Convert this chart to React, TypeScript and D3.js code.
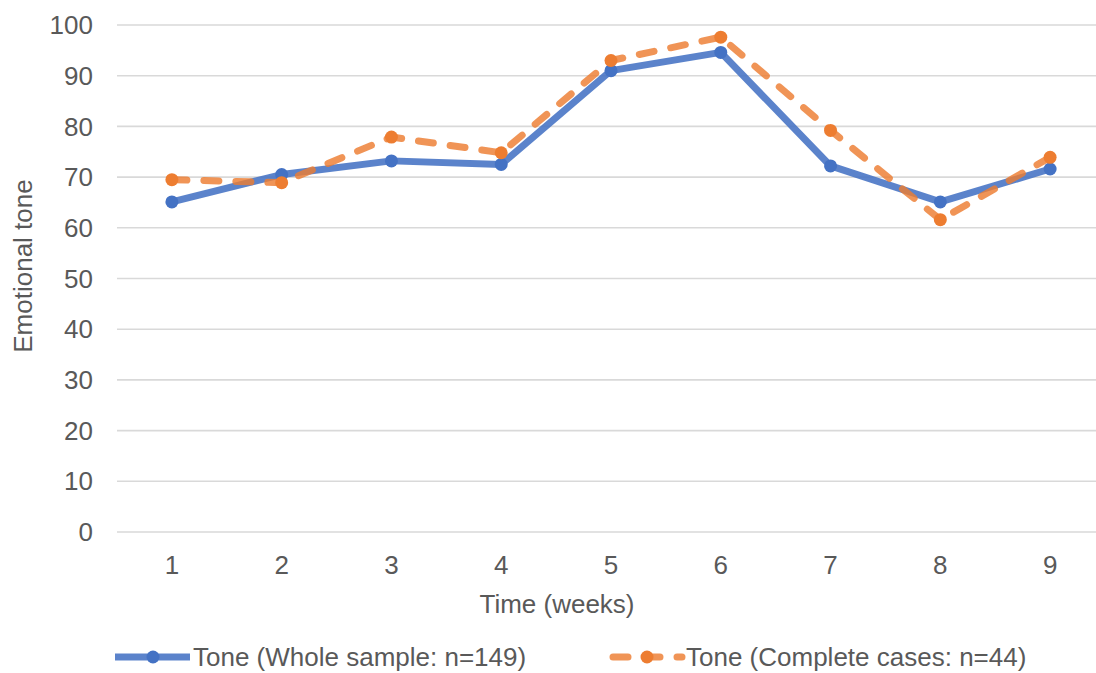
import React, { useEffect, useRef } from 'react';
import * as d3 from 'd3';

const weeks = ['1', '2', '3', '4', '5', '6', '7', '8', '9'];
const wholeSample = [65.1, 70.5, 73.2, 72.5, 91.0, 94.6, 72.2, 65.1, 71.6];
const completeCases = [69.5, 68.9, 77.9, 74.8, 93.0, 97.6, 79.2, 61.6, 73.9];
const yTicks = [0, 10, 20, 30, 40, 50, 60, 70, 80, 90, 100];
const seriesNames = ['Tone (Whole sample: n=149)', 'Tone (Complete cases: n=44)'];

const W = 1096;
const H = 673;
const FONT = '"Liberation Sans", Arial, sans-serif';
const FS = 26;

const App: React.FC = () => {
  const svgRef = useRef<SVGSVGElement | null>(null);

  useEffect(() => {
    document.body.style.margin = '0';
    const svg = d3.select(svgRef.current);
    svg.selectAll('*').remove();

    const margin = { top: 25, right: -9, bottom: 141, left: 117 };
    const width = W - margin.left - margin.right;
    const height = H - margin.top - margin.bottom;

    const g = svg.append('g').attr('transform', `translate(${margin.left},${margin.top})`);

    const x = d3.scaleBand().domain(weeks).range([0, width]).padding(0);
    const y = d3.scaleLinear().domain([0, 100]).range([height, 0]);

    // gridlines
    g.selectAll('.grid')
      .data(yTicks)
      .enter()
      .append('line')
      .attr('x1', 0)
      .attr('x2', width)
      .attr('y1', d => y(d))
      .attr('y2', d => y(d))
      .attr('stroke', '#d9d9d9')
      .attr('stroke-width', 1.6);

    // y labels
    g.selectAll('.ylab')
      .data(yTicks)
      .enter()
      .append('text')
      .attr('x', -24)
      .attr('y', d => y(d))
      .attr('dy', '0.35em')
      .attr('text-anchor', 'end')
      .attr('fill', '#595959')
      .attr('font-family', FONT)
      .attr('font-size', FS)
      .text(d => d);

    // x labels
    g.selectAll('.xlab')
      .data(weeks)
      .enter()
      .append('text')
      .attr('x', d => x(d)! + x.bandwidth() / 2)
      .attr('y', height + 33)
      .attr('dy', '0.35em')
      .attr('text-anchor', 'middle')
      .attr('fill', '#595959')
      .attr('font-family', FONT)
      .attr('font-size', FS)
      .text(d => d);

    // axis titles
    svg.append('text')
      .attr('x', 557)
      .attr('y', 604)
      .attr('dy', '0.35em')
      .attr('text-anchor', 'middle')
      .attr('fill', '#595959')
      .attr('font-family', FONT)
      .attr('font-size', FS)
      .text('Time (weeks)');

    svg.append('text')
      .attr('transform', `translate(23,${266}) rotate(-90)`)
      .attr('dy', '0.35em')
      .attr('text-anchor', 'middle')
      .attr('fill', '#595959')
      .attr('font-family', FONT)
      .attr('font-size', FS)
      .text('Emotional tone');

    const cx = (i: number) => x(weeks[i])! + x.bandwidth() / 2;
    const line = d3.line<number>().x((_, i) => cx(i)).y(d => y(d));

    // whole sample (solid blue)
    g.append('path')
      .datum(wholeSample)
      .attr('d', line)
      .attr('fill', 'none')
      .attr('stroke', '#4472c4')
      .attr('stroke-opacity', 0.88)
      .attr('stroke-width', 7)
      .attr('stroke-linejoin', 'round');

    g.selectAll('.pb')
      .data(wholeSample)
      .enter()
      .append('circle')
      .attr('cx', (_, i) => cx(i))
      .attr('cy', d => y(d))
      .attr('r', 6.5)
      .attr('fill', '#4472c4');

    // complete cases (dashed orange)
    g.append('path')
      .datum(completeCases)
      .attr('d', line)
      .attr('fill', 'none')
      .attr('stroke', '#ed7d31')
      .attr('stroke-opacity', 0.82)
      .attr('stroke-width', 7)
      .attr('stroke-dasharray', '15 17')
      .attr('stroke-linecap', 'round')
      .attr('stroke-linejoin', 'round');

    g.selectAll('.po')
      .data(completeCases)
      .enter()
      .append('circle')
      .attr('cx', (_, i) => cx(i))
      .attr('cy', d => y(d))
      .attr('r', 6.5)
      .attr('fill', '#ed7d31');

    // legend
    const ly = 657;
    const leg = svg.append('g');
    leg.append('line')
      .attr('x1', 115).attr('x2', 190)
      .attr('y1', ly).attr('y2', ly)
      .attr('stroke', '#4472c4').attr('stroke-opacity', 0.88).attr('stroke-width', 7);
    leg.append('circle').attr('cx', 153).attr('cy', ly).attr('r', 6.5).attr('fill', '#4472c4');
    leg.append('text')
      .attr('x', 193).attr('y', ly).attr('dy', '0.35em')
      .attr('fill', '#595959').attr('font-family', FONT).attr('font-size', FS)
      .text(seriesNames[0]);

    leg.append('line')
      .attr('x1', 613).attr('x2', 682)
      .attr('y1', ly).attr('y2', ly)
      .attr('stroke', '#ed7d31').attr('stroke-opacity', 0.82).attr('stroke-width', 7)
      .attr('stroke-dasharray', '15 17').attr('stroke-linecap', 'round');
    leg.append('circle').attr('cx', 647).attr('cy', ly).attr('r', 6.5).attr('fill', '#ed7d31');
    leg.append('text')
      .attr('x', 686).attr('y', ly).attr('dy', '0.35em')
      .attr('fill', '#595959').attr('font-family', FONT).attr('font-size', FS)
      .text(seriesNames[1]);
  }, []);

  return <svg ref={svgRef} width={W} height={H} style={{ display: 'block', background: '#fff' }} />;
};

export default App;
